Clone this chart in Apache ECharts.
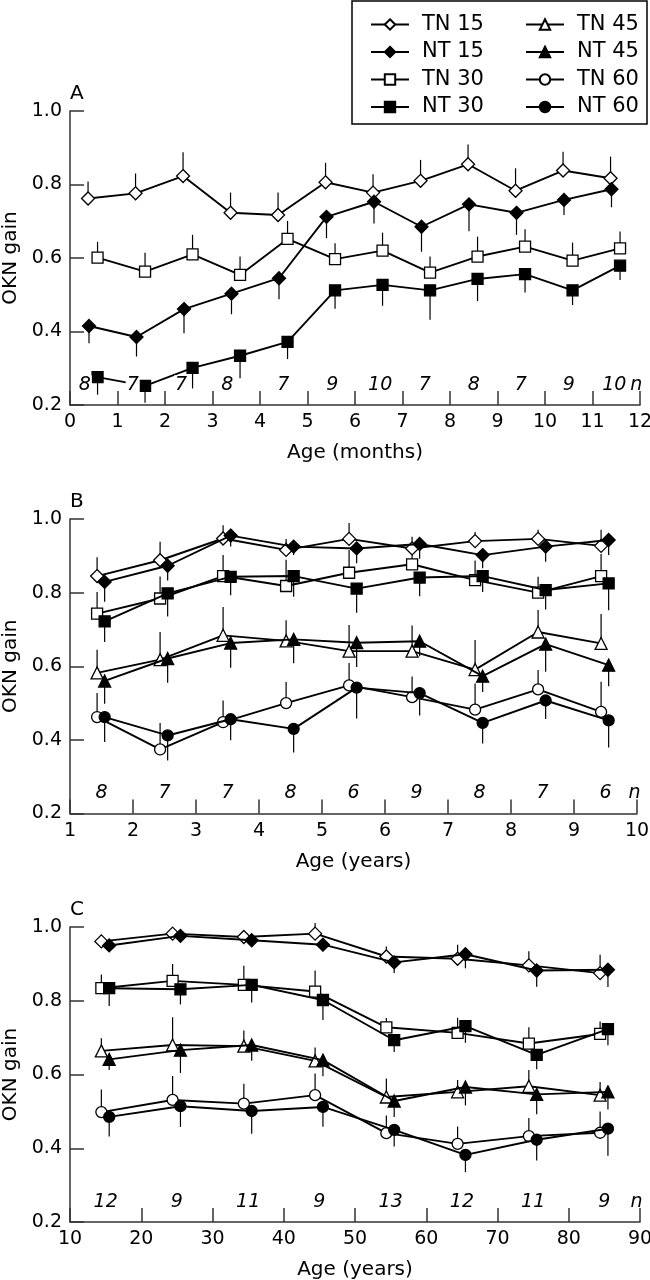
<!DOCTYPE html>
<html><head><meta charset="utf-8">
<script src="https://cdn.jsdelivr.net/npm/echarts@6/dist/echarts.min.js"></script>
<style>html,body{margin:0;padding:0;background:#fff}#c{width:650px;height:1280px}</style>
</head><body><div id="c"></div>
<script>
// ---------- DATA ----------
// Panel A: age bins in months (bin start), n per bin
const A_bins = [0,1,2,3,4,5,6,7,8,9,10,11];
const A_n = [8,7,7,8,7,9,10,7,8,7,9,10];
const A_nPos = [0.31,1.32,2.34,3.31,4.49,5.52,6.53,7.47,8.5,9.49,10.5,11.46];
const A_TN15 = [0.762,0.776,0.823,0.723,0.717,0.806,0.778,0.810,0.855,0.783,0.838,0.817];
const A_TN15_err = [0.046,0.054,0.065,0.055,0.061,0.053,0.050,0.057,0.054,0.061,0.051,0.059];
const A_NT15 = [0.415,0.385,0.461,0.503,0.545,0.712,0.753,0.685,0.746,0.723,0.758,0.787];
const A_NT15_err = [0.047,0.053,0.066,0.056,0.057,0.058,0.059,0.068,0.073,0.060,0.041,0.049];
const A_TN30 = [0.601,0.563,0.610,0.554,0.652,0.597,0.620,0.560,0.604,0.631,0.593,0.626];
const A_TN30_err = [0.043,0.051,0.053,0.050,0.049,0.043,0.049,0.044,0.054,0.047,0.049,0.046];
const A_NT30 = [0.276,0.252,0.301,0.334,0.372,0.512,0.527,0.512,0.543,0.556,0.512,0.579];
const A_NT30_err = [0.048,0.046,0.056,0.061,0.047,0.050,0.057,0.080,0.060,0.050,0.040,0.039];

// Panel B: age bins in years
const B_bins = [1,2,3,4,5,6,7,8,9];
const B_n = [8,7,7,8,6,9,8,7,6];
const B_TN15 = [0.845,0.888,0.947,0.916,0.946,0.920,0.940,0.946,0.927];
const B_TN15_err = [0.051,0.050,0.036,0.030,0.043,0.032,0.025,0.025,0.044];
const B_NT15 = [0.829,0.873,0.955,0.925,0.920,0.932,0.902,0.925,0.943];
const B_NT15_err = [0.054,0.040,0.030,0.023,0.040,0.040,0.036,0.041,0.041];
const B_TN30 = [0.743,0.784,0.845,0.818,0.854,0.877,0.834,0.800,0.845];
const B_TN30_err = [0.059,0.060,0.057,0.071,0.062,0.050,0.053,0.043,0.060];
const B_NT30 = [0.722,0.798,0.843,0.845,0.811,0.841,0.845,0.807,0.825];
const B_NT30_err = [0.056,0.063,0.050,0.056,0.066,0.051,0.043,0.053,0.073];
const B_TN45 = [0.582,0.618,0.684,0.669,0.641,0.641,0.591,0.693,0.662];
const B_TN45_err = [0.063,0.075,0.077,0.056,0.071,0.070,0.080,0.060,0.080];
const B_NT45 = [0.560,0.621,0.663,0.673,0.664,0.668,0.573,0.660,0.603];
const B_NT45_err = [0.062,0.066,0.067,0.065,0.066,0.041,0.043,0.075,0.057];
const B_TN60 = [0.462,0.374,0.448,0.500,0.548,0.516,0.482,0.537,0.476];
const B_TN60_err = [0.065,0.072,0.059,0.057,0.061,0.056,0.071,0.053,0.082];
const B_NT60 = [0.462,0.412,0.456,0.430,0.542,0.527,0.446,0.507,0.453];
const B_NT60_err = [0.068,0.068,0.057,0.064,0.084,0.061,0.056,0.050,0.074];

// Panel C: age bins in years (decades)
const C_bins = [10,20,30,40,50,60,70,80];
const C_n = [12,9,11,9,13,12,11,9];
const C_TN15 = [0.961,0.982,0.973,0.982,0.920,0.914,0.896,0.875];
const C_TN15_err = [0.018,0.012,0.012,0.029,0.027,0.038,0.038,0.050];
const C_NT15 = [0.950,0.976,0.964,0.952,0.904,0.926,0.882,0.884];
const C_NT15_err = [0.016,0.015,0.016,0.018,0.029,0.038,0.044,0.047];
const C_TN30 = [0.834,0.854,0.843,0.825,0.728,0.713,0.684,0.710];
const C_TN30_err = [0.037,0.046,0.052,0.057,0.025,0.041,0.044,0.034];
const C_NT30 = [0.834,0.831,0.843,0.802,0.693,0.731,0.653,0.723];
const C_NT30_err = [0.048,0.041,0.048,0.054,0.032,0.045,0.039,0.044];
const C_TN45 = [0.664,0.680,0.677,0.637,0.539,0.553,0.568,0.544];
const C_TN45_err = [0.034,0.075,0.042,0.036,0.050,0.032,0.044,0.036];
const C_NT45 = [0.641,0.666,0.680,0.639,0.528,0.566,0.546,0.553];
const C_NT45_err = [0.029,0.062,0.043,0.044,0.043,0.050,0.054,0.048];
const C_TN60 = [0.498,0.531,0.521,0.544,0.441,0.412,0.433,0.442];
const C_TN60_err = [0.061,0.065,0.054,0.059,0.048,0.047,0.049,0.058];
const C_NT60 = [0.485,0.514,0.501,0.512,0.450,0.382,0.423,0.453];
const C_NT60_err = [0.053,0.056,0.062,0.054,0.045,0.047,0.056,0.073];

const yTicks = [0.2,0.4,0.6,0.8,1.0];
const legendLeft = ['TN 15','NT 15','TN 30','NT 30'];
const legendRight = ['TN 45','NT 45','TN 60','NT 60'];

// ---------- STYLE ----------
const FONT = 'DejaVu Sans';
const STY = {
  'TN 15': {symbol:'diamond', size:13, fill:'#fff'},
  'NT 15': {symbol:'diamond', size:13, fill:'#000'},
  'TN 30': {symbol:'rect', size:11, fill:'#fff'},
  'NT 30': {symbol:'rect', size:11, fill:'#000'},
  'TN 45': {symbol:'triangle', size:12, fill:'#fff'},
  'NT 45': {symbol:'triangle', size:12, fill:'#000'},
  'TN 60': {symbol:'circle', size:11, fill:'#fff'},
  'NT 60': {symbol:'circle', size:11, fill:'#000'}
};

const series = [];
function addSeries(g, name, bins, off, vals, errs, dir){
  const s = STY[name];
  const pts = bins.map((b,i)=>[b+off, vals[i]]);
  series.push({
    type:'custom', xAxisIndex:g, yAxisIndex:g, z:2, silent:true,
    data: bins.map((b,i)=>[b+off, vals[i], dir*errs[i]]),
    renderItem:(p, api)=>{
      const x=api.value(0), y=api.value(1), e=api.value(2);
      const a=api.coord([x,y]), b=api.coord([x,y+e]);
      return {type:'line', shape:{x1:a[0],y1:a[1],x2:b[0],y2:b[1]}, style:{stroke:'#000', lineWidth:1.2}};
    }
  });
  series.push({
    type:'line', name, xAxisIndex:g, yAxisIndex:g, z:3 + (s.fill==='#000'?1:0),
    data: pts, symbol:s.symbol, symbolSize:s.size, showAllSymbol:true,
    lineStyle:{color:'#000', width:1.9},
    itemStyle:{color:s.fill, borderColor:'#000', borderWidth:1.3},
    emphasis:{disabled:true}, animation:false
  });
}
function addN(g, xs, ns, nx){
  const d = xs.map((x,i)=>[x, String(ns[i])]);
  d.push([nx, 'n']);
  series.push({
    type:'custom', xAxisIndex:g, yAxisIndex:g, z:5, silent:true,
    data: d.map(r=>[r[0], 0.255, r[1]]),
    dimensions:['x','y',{name:'t', type:'ordinal'}],
    renderItem:(p, api)=>{
      const c = api.coord([api.value(0), api.value(1)]);
      const t = d[p.dataIndex][1];
      return {type:'text', x:c[0], y:c[1], style:{text:t, fill:'#000',
        font:'italic 19px "'+FONT+'"', align:'center', verticalAlign:'middle',
        backgroundColor: t==='n'?null:'#fff', padding:[0,1]}};
    }
  });
}

// Panel A
addSeries(0,'TN 15',A_bins,0.38,A_TN15,A_TN15_err,1);
addSeries(0,'NT 15',A_bins,0.40,A_NT15,A_NT15_err,-1);
addSeries(0,'TN 30',A_bins,0.58,A_TN30,A_TN30_err,1);
addSeries(0,'NT 30',A_bins,0.58,A_NT30,A_NT30_err,-1);
addN(0, A_nPos, A_n, 11.92);
// Panel B
const bOffT = 0.43, bOffN = 0.55;
addSeries(1,'TN 15',B_bins,bOffT,B_TN15,B_TN15_err,1);
addSeries(1,'NT 15',B_bins,bOffN,B_NT15,B_NT15_err,-1);
addSeries(1,'TN 30',B_bins,bOffT,B_TN30,B_TN30_err,1);
addSeries(1,'NT 30',B_bins,bOffN,B_NT30,B_NT30_err,-1);
addSeries(1,'TN 45',B_bins,bOffT,B_TN45,B_TN45_err,1);
addSeries(1,'NT 45',B_bins,bOffN,B_NT45,B_NT45_err,-1);
addSeries(1,'TN 60',B_bins,bOffT,B_TN60,B_TN60_err,1);
addSeries(1,'NT 60',B_bins,bOffN,B_NT60,B_NT60_err,-1);
addN(1, B_bins.map(b=>b+0.5), B_n, 9.96);
// Panel C
const cOffT = 4.4, cOffN = 5.5;
addSeries(2,'TN 15',C_bins,cOffT,C_TN15,C_TN15_err,1);
addSeries(2,'NT 15',C_bins,cOffN,C_NT15,C_NT15_err,-1);
addSeries(2,'TN 30',C_bins,cOffT,C_TN30,C_TN30_err,1);
addSeries(2,'NT 30',C_bins,cOffN,C_NT30,C_NT30_err,-1);
addSeries(2,'TN 45',C_bins,cOffT,C_TN45,C_TN45_err,1);
addSeries(2,'NT 45',C_bins,cOffN,C_NT45,C_NT45_err,-1);
addSeries(2,'TN 60',C_bins,cOffT,C_TN60,C_TN60_err,1);
addSeries(2,'NT 60',C_bins,cOffN,C_NT60,C_NT60_err,-1);
addN(2, C_bins.map(b=>b+5), C_n, 89.5);

const axisLine = {lineStyle:{color:'#333', width:1.5}};
const axisTick = {inside:true, length:14, lineStyle:{color:'#333', width:1.5}};
function xAx(g, min, max, interval, name){
  return {type:'value', gridIndex:g, min, max, interval, name, nameLocation:'middle', nameGap:38,
    nameTextStyle:{fontSize:20, fontFamily:FONT, color:'#000'},
    axisLine, axisTick, splitLine:{show:false},
    axisLabel:{fontSize:19, fontFamily:FONT, color:'#000', margin:8}};
}
function yAx(g){
  return {type:'value', gridIndex:g, min:yTicks[0], max:yTicks[yTicks.length-1], interval:yTicks[1]-yTicks[0],
    name:'OKN gain', nameLocation:'middle', nameGap:41,
    nameTextStyle:{fontSize:20, fontFamily:FONT, color:'#000'},
    axisLine:Object.assign({show:true},axisLine), axisTick, splitLine:{show:false},
    axisLabel:{fontSize:19, fontFamily:FONT, color:'#000', margin:8, formatter:v=>v.toFixed(1)}};
}
const legendBase = {orient:'vertical', top:8, itemWidth:38, itemHeight:13, itemGap:4.5, selectedMode:false,
  textStyle:{fontSize:21, fontFamily:FONT, color:'#000', lineHeight:23, padding:[0,0,0,8]}};

const gridBase = {containLabel:false, outerBoundsMode:'none'};
const option = {
  animation:false,
  backgroundColor:'#fff',
  grid:[
    Object.assign({left:70, top:111, width:570, height:294}, gridBase),
    Object.assign({left:70, top:519, width:567, height:294.5}, gridBase),
    Object.assign({left:70, top:927, width:570, height:295}, gridBase)
  ],
  xAxis:[xAx(0,0,12,1,'Age (months)'), xAx(1,1,10,1,'Age (years)'), xAx(2,10,90,10,'Age (years)')],
  yAxis:[yAx(0), yAx(1), yAx(2)],
  legend:[
    Object.assign({data:legendLeft, left:365}, legendBase),
    Object.assign({data:legendRight, left:520}, legendBase)
  ],
  graphic:[
    {type:'rect', shape:{x:352, y:1, width:295, height:123}, style:{fill:'none', stroke:'#000', lineWidth:1.5}},
    {type:'text', left:70, top:84, style:{text:'A', font:'20px "'+FONT+'"', fill:'#000'}},
    {type:'text', left:70, top:492, style:{text:'B', font:'20px "'+FONT+'"', fill:'#000'}},
    {type:'text', left:70, top:900, style:{text:'C', font:'20px "'+FONT+'"', fill:'#000'}}
  ],
  series
};
const chart = echarts.init(document.getElementById('c'), null, {renderer:'canvas'});
chart.setOption(option);
</script>
</body></html>
